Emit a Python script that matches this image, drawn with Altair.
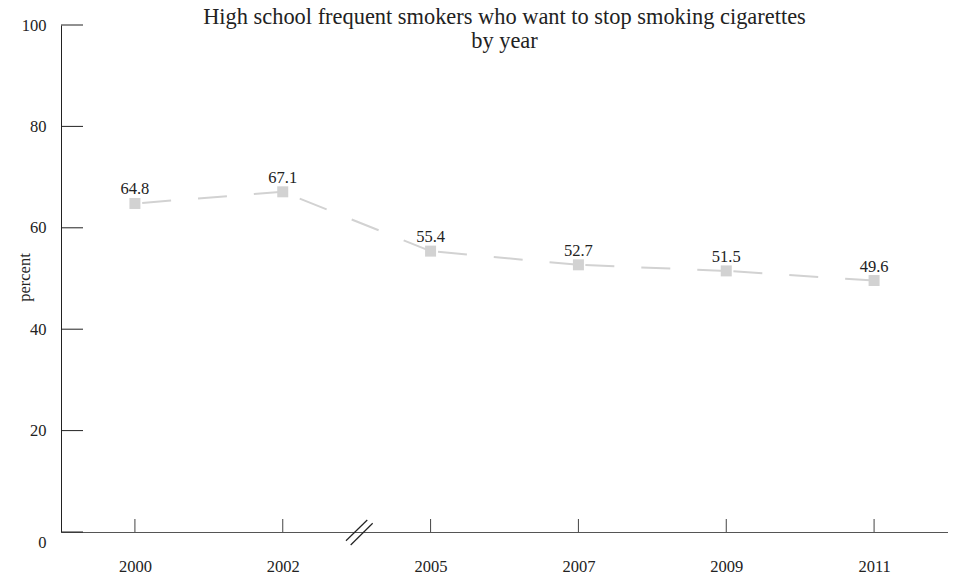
import json
import altair as alt
import pandas as pd

# ---- data ----
years = ["2000", "2002", "2005", "2007", "2009", "2011"]
values = [64.8, 67.1, 55.4, 52.7, 51.5, 49.6]
y_ticks = [0, 20, 40, 60, 80, 100]
title_lines = ["High school frequent smokers who want to stop smoking cigarettes", "by year"]
y_title = "percent"
break_after = 1  # axis break drawn between 2002 and 2005

# ---- layout / style ----
W, H = 887, 507
FONT = "Liberation Serif"
TXT = "#222222"
LINE = "#d2d2d2"
FS = 16.5

idx = list(range(len(years)))
points = pd.DataFrame({"i": idx, "year": years, "v": values})
# each segment drawn from its right point toward its left point
segs = pd.DataFrame({"xa": idx[1:], "ya": values[1:], "xb": idx[:-1], "yb": values[:-1]})
yt = pd.DataFrame({"t": y_ticks})
xt = pd.DataFrame({"i": idx})

xdom = [-0.5, len(years) - 0.5]
px_x = W / (xdom[1] - xdom[0])
px_y = H / (y_ticks[-1] - y_ticks[0])
bc = break_after + 0.5


def bx(dpx):
    return bc + dpx / px_x


def by(dpx):  # dpx: pixels below the x axis
    return -dpx / px_y


brk = pd.DataFrame({
    "x1": [bx(-10.7), bx(-6.0)],
    "x2": [bx(10.6), bx(16.0)],
    "y1": [by(8.7), by(13.0)],
    "y2": [by(-12.0), by(-8.7)],
})

xs = alt.Scale(domain=xdom, nice=False, zero=False)
ys = alt.Scale(domain=[y_ticks[0], y_ticks[-1]], nice=False, zero=False)

label_expr = json.dumps(years) + "[datum.value]"

x_axis = alt.Axis(
    values=idx, labelExpr=label_expr, ticks=False, grid=False,
    domainColor="#555555", domainWidth=1,
    labelFont=FONT, labelFontSize=FS, labelColor=TXT, labelPadding=26,
    labelFlush=False, title=None,
)
y_axis = alt.Axis(
    values=y_ticks, ticks=False, grid=False,
    domainColor="#222222", domainWidth=1,
    labelFont=FONT, labelFontSize=FS, labelColor=TXT, labelPadding=15,
    labelFlush=False,
    labelOffset={"condition": {"test": "datum.value === 0", "value": 10}, "value": 0},
    title=y_title, titleFont=FONT, titleFontSize=FS, titleFontWeight="normal",
    titleColor=TXT, titleAngle=270, titleX=-31.5, titleY=252,
    titleAlign="center", titleBaseline="alphabetic",
)

line = alt.Chart(segs).mark_rule(
    color=LINE, strokeWidth=2, strokeDash=[29, 27], strokeCap="butt"
).encode(
    x=alt.X("xa:Q", scale=xs, axis=x_axis), x2="xb:Q",
    y=alt.Y("ya:Q", scale=ys, axis=y_axis), y2="yb:Q",
)

yticks = alt.Chart(yt).mark_rule(color="#222222", strokeWidth=1).encode(
    y=alt.Y("t:Q", scale=ys, axis=y_axis),
    x=alt.value(0), x2=alt.value(22),
)

xticks = alt.Chart(xt).mark_rule(color="#444444", strokeWidth=1).encode(
    x=alt.X("i:Q", scale=xs, axis=x_axis),
    y=alt.value(H), y2=alt.value(H - 13),
)

breaks = alt.Chart(brk).mark_rule(color="#222222", strokeWidth=1.2).encode(
    x=alt.X("x1:Q", scale=xs, axis=x_axis), x2="x2:Q",
    y=alt.Y("y1:Q", scale=ys, axis=y_axis), y2="y2:Q",
)

squares = alt.Chart(points).mark_square(size=121, color=LINE, opacity=1, filled=True).encode(
    x=alt.X("i:Q", scale=xs, axis=x_axis),
    y=alt.Y("v:Q", scale=ys, axis=y_axis),
)

labels = alt.Chart(points).mark_text(
    baseline="alphabetic", dy=-9, font=FONT, fontSize=FS, color=TXT
).encode(
    x=alt.X("i:Q", scale=xs, axis=x_axis),
    y=alt.Y("v:Q", scale=ys, axis=y_axis),
    text=alt.Text("v:Q", format=".1f"),
)

chart = alt.layer(line, yticks, xticks, breaks, squares, labels).properties(
    width=W, height=H,
    autosize=alt.AutoSizeParams(type="none"),
    padding={"left": 53, "top": 17, "right": 0, "bottom": 44},
    title=alt.TitleParams(
        text=title_lines, anchor="middle", font=FONT, fontSize=22.4,
        fontWeight="normal", color=TXT, lineHeight=24,
        baseline="alphabetic", offset=0, dy=53,
    ),
).configure_view(strokeWidth=0)

chart.save("out.html", embed_options={"renderer": "svg", "actions": False})
